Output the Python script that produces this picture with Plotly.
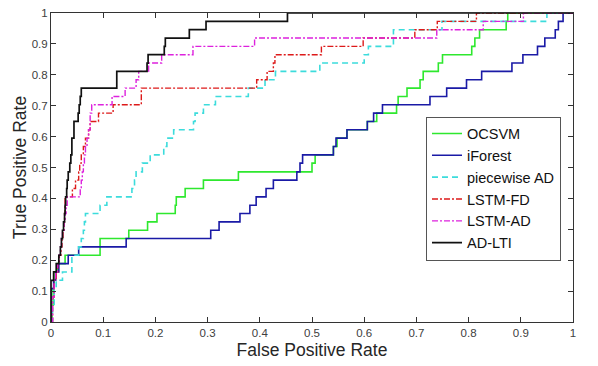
import plotly.graph_objects as go

# ---- data ----
ocsvm_fpr = [0, 0.002, 0.004, 0.006, 0.008, 0.012, 0.027, 0.094, 0.149, 0.185, 0.203, 0.238, 0.240, 0.257, 0.292, 0.359, 0.500, 0.506, 0.541, 0.548, 0.567, 0.606, 0.624, 0.662, 0.665, 0.682, 0.707, 0.713, 0.742, 0.750, 0.806, 0.812, 0.821, 0.872, 0.875, 1.0]
ocsvm_tpr = [0, 0.054, 0.108, 0.135, 0.162, 0.189, 0.216, 0.270, 0.297, 0.324, 0.351, 0.378, 0.405, 0.432, 0.459, 0.486, 0.514, 0.541, 0.568, 0.595, 0.622, 0.649, 0.676, 0.703, 0.730, 0.757, 0.784, 0.811, 0.838, 0.865, 0.892, 0.919, 0.946, 0.973, 1.0, 1.0]

iforest_fpr = [0, 0, 0.005, 0.009, 0.015, 0.033, 0.053, 0.144, 0.306, 0.322, 0.362, 0.381, 0.393, 0.412, 0.426, 0.471, 0.477, 0.482, 0.541, 0.546, 0.567, 0.606, 0.618, 0.635, 0.726, 0.758, 0.796, 0.825, 0.883, 0.904, 0.932, 0.946, 0.966, 0.972, 0.981, 1.0]
iforest_tpr = [0, 0.108, 0.135, 0.162, 0.189, 0.216, 0.243, 0.270, 0.297, 0.324, 0.351, 0.378, 0.405, 0.432, 0.459, 0.486, 0.514, 0.541, 0.568, 0.595, 0.622, 0.649, 0.676, 0.703, 0.730, 0.757, 0.784, 0.811, 0.838, 0.865, 0.892, 0.919, 0.946, 0.973, 1.0, 1.0]

piecewise_fpr = [0, 0.003, 0.006, 0.010, 0.022, 0.040, 0.053, 0.058, 0.062, 0.064, 0.066, 0.094, 0.107, 0.155, 0.160, 0.163, 0.175, 0.190, 0.216, 0.222, 0.235, 0.273, 0.276, 0.292, 0.315, 0.378, 0.410, 0.430, 0.515, 0.600, 0.608, 0.656, 0.749, 0.950, 1.0]
piecewise_tpr = [0, 0.054, 0.108, 0.135, 0.162, 0.216, 0.243, 0.270, 0.297, 0.324, 0.351, 0.378, 0.405, 0.432, 0.459, 0.486, 0.514, 0.541, 0.568, 0.595, 0.622, 0.649, 0.676, 0.703, 0.730, 0.757, 0.784, 0.811, 0.838, 0.865, 0.892, 0.946, 0.973, 1.0, 1.0]

lstmfd_fpr = [0, 0.003, 0.006, 0.010, 0.013, 0.016, 0.019, 0.021, 0.023, 0.025, 0.026, 0.027, 0.041, 0.047, 0.053, 0.055, 0.058, 0.062, 0.066, 0.072, 0.075, 0.091, 0.119, 0.173, 0.394, 0.414, 0.426, 0.429, 0.518, 0.598, 0.697, 0.740, 0.815, 1.0]
lstmfd_tpr = [0, 0.081, 0.135, 0.162, 0.189, 0.216, 0.243, 0.270, 0.297, 0.324, 0.351, 0.405, 0.432, 0.459, 0.486, 0.514, 0.541, 0.568, 0.595, 0.622, 0.649, 0.676, 0.703, 0.757, 0.784, 0.811, 0.838, 0.865, 0.892, 0.919, 0.946, 0.973, 1.0, 1.0]

lstmad_fpr = [0, 0.003, 0.006, 0.009, 0.012, 0.015, 0.018, 0.020, 0.022, 0.025, 0.027, 0.029, 0.031, 0.056, 0.058, 0.060, 0.062, 0.064, 0.066, 0.069, 0.072, 0.075, 0.078, 0.117, 0.142, 0.163, 0.168, 0.187, 0.212, 0.272, 0.390, 0.739, 0.828, 0.905, 1.0]
lstmad_tpr = [0, 0.081, 0.135, 0.162, 0.189, 0.216, 0.243, 0.270, 0.297, 0.324, 0.351, 0.378, 0.405, 0.432, 0.459, 0.486, 0.514, 0.541, 0.568, 0.595, 0.622, 0.676, 0.703, 0.730, 0.757, 0.784, 0.811, 0.838, 0.865, 0.892, 0.919, 0.946, 0.973, 1.0, 1.0]

adlti_fpr = [0, 0, 0.005, 0.010, 0.015, 0.018, 0.020, 0.022, 0.024, 0.026, 0.027, 0.028, 0.030, 0.031, 0.033, 0.036, 0.038, 0.040, 0.044, 0.052, 0.054, 0.056, 0.058, 0.126, 0.184, 0.186, 0.217, 0.219, 0.265, 0.297, 0.453, 1.0]
adlti_tpr = [0, 0.135, 0.162, 0.189, 0.216, 0.243, 0.270, 0.297, 0.324, 0.351, 0.378, 0.405, 0.432, 0.459, 0.486, 0.514, 0.541, 0.595, 0.649, 0.676, 0.703, 0.730, 0.757, 0.811, 0.838, 0.865, 0.892, 0.919, 0.946, 0.973, 1.0, 1.0]

tick_vals = [0, 0.1, 0.2, 0.3, 0.4, 0.5, 0.6, 0.7, 0.8, 0.9, 1]
tick_text = ["0", "0.1", "0.2", "0.3", "0.4", "0.5", "0.6", "0.7", "0.8", "0.9", "1"]

series = [
    ("OCSVM", ocsvm_fpr, ocsvm_tpr, "#2ee82e", "solid", 1.6),
    ("iForest", iforest_fpr, iforest_tpr, "#1a1aa6", "solid", 1.6),
    ("piecewise AD", piecewise_fpr, piecewise_tpr, "#3cdcdc", "6px,4px", 1.6),
    ("LSTM-FD", lstmfd_fpr, lstmfd_tpr, "#dd1a1a", "6px,2px,2px,2px", 1.4),
    ("LSTM-AD", lstmad_fpr, lstmad_tpr, "#dd22dd", "6px,2px,2px,2px", 1.4),
    ("AD-LTI", adlti_fpr, adlti_tpr, "#111111", "solid", 1.7),
]

FONT = "Liberation Sans, Arial, Helvetica, sans-serif"

fig = go.Figure()
for name, xs, ys, col, dash, w in series:
    fig.add_trace(go.Scatter(
        x=xs, y=ys, name=name, mode="lines",
        line=dict(color=col, dash=dash, width=w, shape="hv"),
    ))

axis_common = dict(
    range=[0, 1], tickvals=tick_vals, ticktext=tick_text,
    ticks="inside", ticklen=5, tickcolor="#333333",
    showline=True, linecolor="#333333", linewidth=1, mirror="ticks",
    showgrid=False, zeroline=False, automargin=False,
    ticklabeloverflow="allow",
    tickfont=dict(family=FONT, size=11.5, color="#404040"),
)

# the page body adds an 8px offset, so the figure is 8px smaller
fig.update_layout(
    width=590, height=358,
    margin=dict(l=43, r=25, t=5, b=44, autoexpand=False),
    paper_bgcolor="white", plot_bgcolor="white",
    font=dict(family=FONT, color="#262626"),
    xaxis=dict(axis_common, title=dict(text="False Positive Rate",
                                       font=dict(family=FONT, size=17.5, color="#262626"),
                                       standoff=5)),
    yaxis=dict(axis_common, title=dict(text="True Positive Rate",
                                       font=dict(family=FONT, size=17.5, color="#262626"),
                                       standoff=0)),
    legend=dict(
        x=0.977, y=0.665, xanchor="right", yanchor="top",
        bgcolor="white", bordercolor="#555555", borderwidth=1,
        font=dict(family=FONT, size=14.5, color="#111111"),
        tracegroupgap=0, itemwidth=30,
    ),
    showlegend=True,
)

fig.write_html("out.html")
